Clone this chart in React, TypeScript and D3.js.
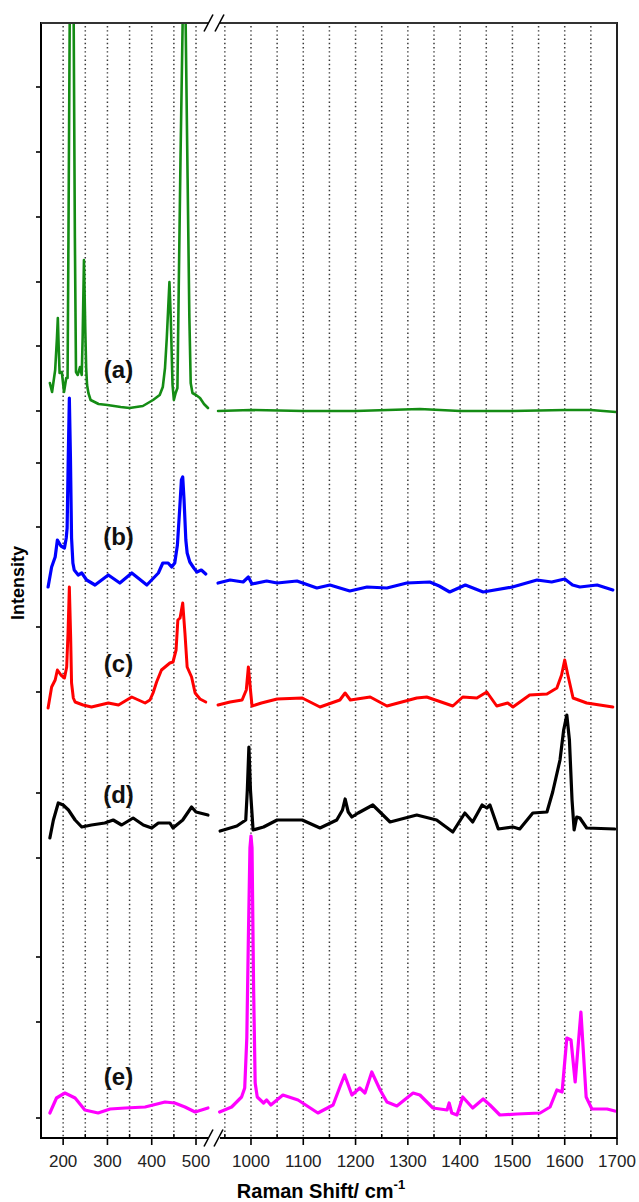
import React from 'react';
import * as d3 from 'd3';

// ---------- data ----------
const leftDomain: [number, number] = [150, 530];
const rightDomain: [number, number] = [935, 1700];
const leftMajorTicks = [200, 300, 400, 500];
const rightMajorTicks = [1000, 1100, 1200, 1300, 1400, 1500, 1600, 1700];
const leftMinorTicks = [250, 350, 450];
const rightMinorTicks = [950, 1050, 1150, 1250, 1350, 1450, 1550, 1650];
const leftGrid = [200, 250, 300, 350, 400, 450, 500];
const rightGrid = [950, 1000, 1050, 1100, 1150, 1200, 1250, 1300, 1350, 1400, 1450, 1500, 1550, 1600, 1650];
const yTicks = [1051, 986, 921, 856, 792, 727, 675, 611, 511, 446, 345, 280, 181, 116, 20];
const yDomain: [number, number] = [0, 1115];

const seriesA_left: [number, number][] = [[170,755],[175,746],[182,768],[186,800],[188,820],[190,790],[192,765],[197,766],[202,746],[207,760],[210,760],[212,900],[214.8,1115],[219.3,1500],[223.8,1115],[226.5,900],[229,766],[233,763],[238,771],[242,763],[244,800],[247,878],[250,808],[252,770],[254,753],[257,745],[262,738],[280,734],[300,733],[330,731],[350,730],[380,732],[403,738],[418,743],[425,751],[430,770],[434,800],[437,828],[440,856],[443,820],[447,753],[450,738],[454,745],[458,750],[461,850],[465,980],[469.8,1115],[473.2,1500],[476.6,1115],[481,960],[485,820],[488,755],[492,745],[500,743],[509,740],[518,734],[527,730]];
const seriesA_right: [number, number][] = [[937,727],[1000,728],[1100,727],[1200,727],[1323,729],[1400,727],[1500,727],[1600,728],[1650,728],[1698,726]];

const seriesB_left: [number, number][] = [[166,551],[174,571],[182,581],[187,598],[195,592],[203,590],[207,600],[209,610],[211.5,680],[214,740],[216.5,680],[219,600],[222,575],[225,568],[234,563],[242,565],[253,558],[272,553],[302,563],[328,555],[355,565],[389,553],[415,565],[425,575],[437,575],[445,571],[452,575],[458,593],[463,628],[467,658],[470,661],[473,638],[477,598],[480,585],[486,576],[495,570],[502,566],[512,568],[522,564]];
const seriesB_right: [number, number][] = [[937,555],[960,558],[985,556],[995,561],[1002,554],[1030,557],[1050,555],[1088,557],[1126,550],[1151,553],[1189,547],[1222,551],[1260,550],[1298,555],[1342,556],[1360,552],[1380,546],[1410,553],[1444,546],[1500,551],[1547,558],[1575,556],[1600,559],[1615,553],[1629,551],[1662,553],[1692,548]];

const seriesC_left: [number, number][] = [[166,430],[174,451],[182,458],[187,468],[195,463],[203,460],[208,471],[211,505],[214,551],[217,500],[219,455],[223,440],[227,436],[245,433],[264,431],[302,435],[325,433],[355,441],[385,435],[396,438],[403,445],[411,456],[422,468],[441,475],[448,476],[455,488],[459,518],[464,520],[470,535],[475,505],[480,471],[490,461],[498,445],[509,439],[522,436]];
const seriesC_right: [number, number][] = [[937,433],[960,436],[983,438],[991,448],[995,471],[999,448],[1002,432],[1020,435],[1050,439],[1098,440],[1132,431],[1170,438],[1180,445],[1190,438],[1228,441],[1260,432],[1317,440],[1336,441],[1386,432],[1405,441],[1432,440],[1451,446],[1470,432],[1491,435],[1501,431],[1533,443],[1566,444],[1585,450],[1594,463],[1600,478],[1606,463],[1616,440],[1642,435],[1692,431]];

const seriesD_left: [number, number][] = [[170,300],[178,318],[189,335],[200,333],[212,328],[227,318],[242,311],[264,313],[294,315],[313,318],[332,313],[358,320],[381,313],[400,310],[415,315],[441,315],[448,310],[470,318],[490,331],[500,326],[509,325],[527,323]];
const seriesD_right: [number, number][] = [[941,307],[973,312],[990,318],[993,348],[996,391],[999,348],[1004,308],[1024,311],[1050,318],[1098,318],[1132,310],[1164,318],[1175,328],[1180,339],[1186,326],[1193,321],[1205,325],[1233,333],[1266,316],[1317,323],[1355,318],[1386,306],[1409,325],[1424,316],[1442,333],[1451,330],[1457,333],[1473,309],[1501,311],[1514,309],[1539,325],[1566,326],[1577,346],[1591,378],[1598,408],[1604,423],[1609,398],[1614,338],[1618,308],[1623,321],[1629,320],[1642,310],[1696,309]];

const seriesE_left: [number, number][] = [[170,25],[185,40],[204,45],[227,40],[249,28],[279,25],[306,29],[340,30],[385,31],[430,36],[452,35],[475,31],[498,26],[527,30]];
const seriesE_right: [number, number][] = [[940,26],[963,31],[982,41],[988,50],[992,100],[995,200],[998,290],[1000,302],[1002,290],[1005,150],[1008,55],[1012,41],[1024,35],[1030,38],[1038,33],[1061,43],[1090,38],[1128,25],[1157,33],[1170,51],[1179,63],[1193,43],[1208,50],[1218,45],[1231,66],[1247,48],[1260,36],[1279,32],[1310,45],[1323,43],[1348,30],[1375,28],[1379,35],[1384,25],[1394,23],[1405,41],[1424,30],[1444,39],[1457,33],[1476,23],[1509,24],[1553,25],[1572,31],[1585,48],[1595,46],[1604,100],[1612,98],[1620,56],[1631,126],[1641,41],[1652,29],[1681,29],[1696,27]];

const seriesNames = ['(a)', '(b)', '(c)', '(d)', '(e)'];
const seriesColors = ['#148c14', '#0000ff', '#ff0000', '#000000', '#ff00ff'];
const labelWavenumber = 325;
const labelIntensity = [760, 593, 466, 335, 53];

// ---------- layout ----------
const W = 639, H = 1202;
const M = { left: 41, right: 617, top: 23, bottom: 1138 };
const leftRangeEnd = 209.3;
const rightRangeStart = 217;

export default function App() {
  const xL = d3.scaleLinear().domain(leftDomain).range([M.left, leftRangeEnd]);
  const xR = d3.scaleLinear().domain(rightDomain).range([rightRangeStart, M.right]);
  const y = d3.scaleLinear().domain(yDomain).range([M.bottom, M.top]);

  const lineL = d3.line<[number, number]>().x(d => xL(d[0])).y(d => y(d[1]));
  const lineR = d3.line<[number, number]>().x(d => xR(d[0])).y(d => y(d[1]));

  const all = [
    [seriesA_left, seriesA_right],
    [seriesB_left, seriesB_right],
    [seriesC_left, seriesC_right],
    [seriesD_left, seriesD_right],
    [seriesE_left, seriesE_right],
  ];
  const widths = [2.6, 3.2, 3, 3.2, 3.2];

  const font = "Arial, 'Liberation Sans', sans-serif";
  const gridStyle = { stroke: '#3a3a3a', strokeWidth: 1.5, strokeDasharray: '1.4 2.8' };
  const slash = (cx: number, cy: number, k: number) => (
    <line key={`s${cx}-${cy}-${k}`} x1={cx - 4.5} y1={cy + 8.5} x2={cx + 4.5} y2={cy - 8.5} stroke="#000" strokeWidth={1.6} />
  );

  return (
    <div style={{ position: 'absolute', left: 0, top: 0, width: W, height: H, background: '#fff' }}>
      <svg width={W} height={H} style={{ display: 'block' }}>
        <defs>
          <clipPath id="plotClip">
            <rect x={M.left} y={M.top} width={M.right - M.left} height={M.bottom - M.top} />
          </clipPath>
        </defs>

        {/* grid */}
        {leftGrid.map(v => (
          <line key={`gl${v}`} x1={xL(v)} x2={xL(v)} y1={M.top + 3} y2={M.bottom} {...gridStyle} />
        ))}
        {rightGrid.map(v => (
          <line key={`gr${v}`} x1={xR(v)} x2={xR(v)} y1={M.top + 3} y2={M.bottom} {...gridStyle} />
        ))}

        {/* series */}
        <g clipPath="url(#plotClip)">
          {all.map((pair, i) => (
            <g key={`ser${i}`} fill="none" stroke={seriesColors[i]} strokeWidth={widths[i]} strokeLinejoin="round" strokeLinecap="round">
              <path d={lineL(pair[0]) || ''} />
              <path d={lineR(pair[1]) || ''} />
            </g>
          ))}
        </g>

        {/* axes frame */}
        <line x1={M.left} x2={M.left} y1={M.top - 1} y2={M.bottom + 1} stroke="#000" strokeWidth={2} />
        <line x1={M.right} x2={M.right} y1={M.top - 1} y2={M.bottom + 1} stroke="#222" strokeWidth={2} />
        {/* bottom axis with break */}
        <line x1={M.left} x2={xL(530) - 1} y1={M.bottom} y2={M.bottom} stroke="#000" strokeWidth={2} />
        <line x1={rightRangeStart + 3} x2={M.right} y1={M.bottom} y2={M.bottom} stroke="#000" strokeWidth={2} />
        {slash(208.5, M.bottom, 1)}
        {slash(218.5, M.bottom, 2)}
        {/* top axis with break */}
        <line x1={M.left} x2={xL(530) - 1} y1={M.top} y2={M.top} stroke="#333" strokeWidth={1.8} />
        <line x1={rightRangeStart + 3} x2={M.right} y1={M.top} y2={M.top} stroke="#333" strokeWidth={1.8} />
        {slash(208.5, M.top, 3)}
        {slash(219.5, M.top, 4)}

        {/* y ticks */}
        {yTicks.map(v => (
          <line key={`yt${v}`} x1={M.left - 5} x2={M.left} y1={y(v)} y2={y(v)} stroke="#000" strokeWidth={1.6} />
        ))}

        {/* x ticks */}
        {leftMajorTicks.map(v => (
          <line key={`lmj${v}`} x1={xL(v)} x2={xL(v)} y1={M.bottom} y2={M.bottom + 7} stroke="#000" strokeWidth={1.6} />
        ))}
        {rightMajorTicks.map(v => (
          <line key={`rmj${v}`} x1={xR(v)} x2={xR(v)} y1={M.bottom} y2={M.bottom + 7} stroke="#000" strokeWidth={1.6} />
        ))}
        {leftMinorTicks.map(v => (
          <line key={`lmn${v}`} x1={xL(v)} x2={xL(v)} y1={M.bottom - 4} y2={M.bottom} stroke="#000" strokeWidth={1.4} />
        ))}
        {rightMinorTicks.map(v => (
          <line key={`rmn${v}`} x1={xR(v)} x2={xR(v)} y1={M.bottom - 4} y2={M.bottom} stroke="#000" strokeWidth={1.4} />
        ))}

        {/* x tick labels */}
        <g fontFamily={font} fontSize={17} fill="#222" textAnchor="middle">
          {leftMajorTicks.map(v => (
            <text key={`ll${v}`} x={xL(v)} y={1167}>{v}</text>
          ))}
          {rightMajorTicks.map(v => (
            <text key={`rl${v}`} x={xR(v)} y={1167}>{v}</text>
          ))}
        </g>

        {/* series labels */}
        <g fontFamily={font} fontSize={24} fontWeight="bold" fill="#111" textAnchor="middle">
          {seriesNames.map((s, i) => (
            <text key={`lab${i}`} x={xL(labelWavenumber)} y={y(labelIntensity[i])}>{s}</text>
          ))}
        </g>

        {/* axis titles */}
        <text x={321} y={1198} fontFamily={font} fontSize={20} fontWeight="bold" textAnchor="middle" fill="#000">
          Raman Shift/ cm<tspan fontSize={13} dy={-9}>-1</tspan>
        </text>
        <text transform={`translate(24,583) rotate(-90)`} fontFamily={font} fontSize={18} fontWeight="bold" textAnchor="middle" fill="#000">
          Intensity
        </text>
      </svg>
    </div>
  );
}
